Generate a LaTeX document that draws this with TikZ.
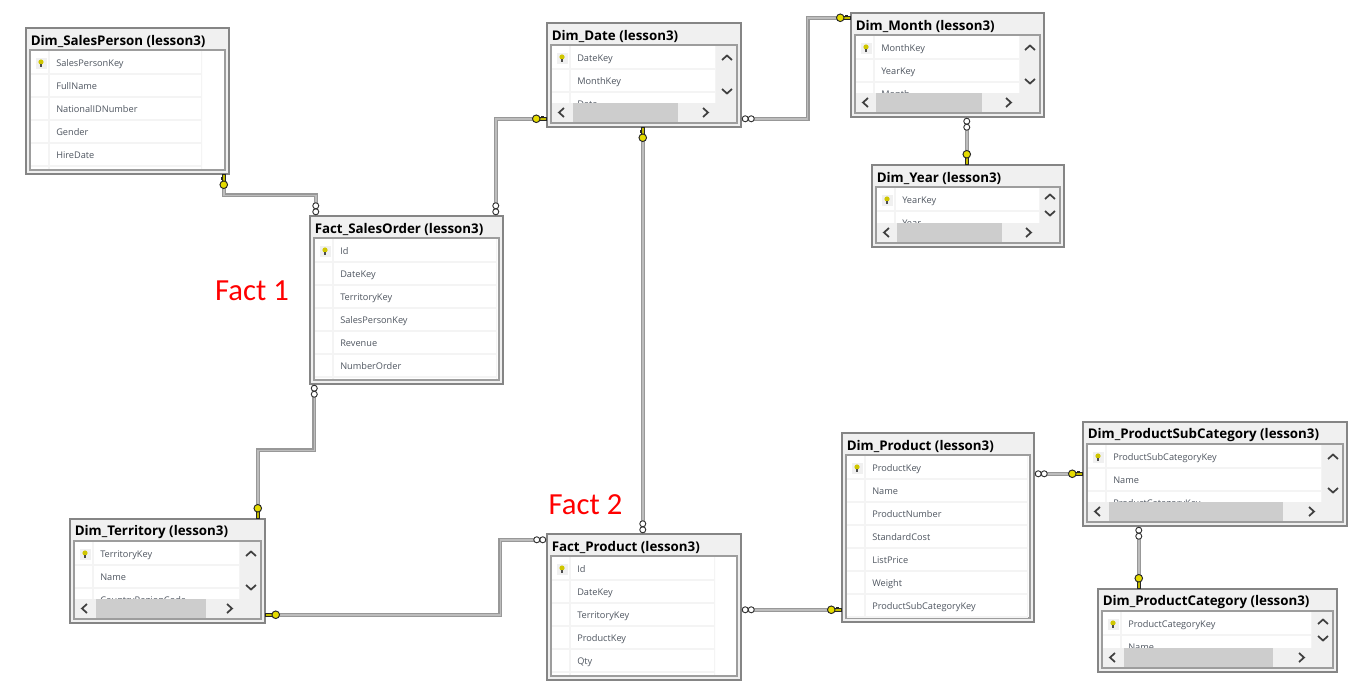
\documentclass[tikz,border=0pt]{standalone}
\usepackage{fontspec}
\setmainfont{Open Sans}
\newfontfamily\labelfont{Carlito}
\usetikzlibrary{calc,fit}

\definecolor{framegray}{HTML}{858585}
\definecolor{barfill}{HTML}{F0F0F0}
\definecolor{rulefill}{HTML}{F4F4F4}
\definecolor{thumbfill}{HTML}{CDCDCD}
\definecolor{rowtext}{HTML}{4F5660}
\definecolor{linkgray}{HTML}{989898}
\definecolor{linkcore}{HTML}{BDBDBD}
\definecolor{keyyellow}{HTML}{E6DC00}

\tikzset{
  tablebox/.style={draw=framegray,line width=1.1pt,fill=barfill,inner sep=0pt},
  tabletitle/.style={anchor=west,inner sep=0pt,font=\fontsize{10}{12}\selectfont\bfseries,text=black},
  rowname/.style={anchor=west,inner sep=0pt,text height=6pt,text depth=1.5pt,font=\fontsize{6.9}{8}\selectfont,text=rowtext},
  factlabel/.style={inner sep=0pt,font=\labelfont\fontsize{23}{26}\selectfont,text=red},
  erdlink/.style={draw=linkgray,line width=.8pt,double=linkcore,double distance=1.1pt},
  chevron/.style={draw=black!75,line width=1.3pt},
  pics/keytip/.style={code={
    \draw[black!85,line width=.6pt,fill=keyyellow!85!black] (0,-1.5) -- (8,-1.5) -- (8,1.5) -- (0,1.5) -- cycle;
    \fill[black!85] (2,1) rectangle (5,2.6);
    \draw[black!85,line width=.7pt,fill=keyyellow] (10,0) circle [radius=3.8];
  }},
  pics/inftip/.style={code={
    \draw[black!80,line width=.7pt,fill=white] (3.5,0) circle [radius=3];
    \draw[black!80,line width=.7pt,fill=white] (9.5,0) circle [radius=3];
  }},
  pics/bulb/.style={code={
    \fill[barfill] (-5.5,-5.5) rectangle (5.5,5.5);
    \fill[keyyellow!90!black] (0,-1) circle [radius=2.6];
    \fill[black!70] (-1.2,1) rectangle (1.2,4);
  }},
}

% name, x1, y1, x2, y2, right end of rows, bottom of panel, title, rows
\newcommand{\erdtable}[9]{
  \node[tablebox,fit={(#2,#3) (#4,#5)}] (#1) {};
  \node[tabletitle] (#1-title) at ({#2+4.5},{#3+13.5}) {#8};
  \draw[framegray!80,line width=.8pt,fill=barfill] ({#2+4},{#3+22}) rectangle ({#4-4},{#5-4});
  \fill[white] ({#2+5},{#3+23}) rectangle ({#4-5},#7);
  \begin{scope}
    \clip ({#2+5},{#3+23}) rectangle (#6,#7);
    \foreach \rowtext [count=\rownum] in {#9} {
      \node[rowname] (#1-r\rownum) at ({#2+30},{#3+35+23*(\rownum-1)}) {\rowtext};
      \draw[rulefill,line width=.8pt] ({#2+5},{#3+46+23*(\rownum-1)}) -- (#6,{#3+46+23*(\rownum-1)});
    }
    \draw[rulefill,line width=.8pt] ({#2+23},{#3+23}) -- ({#2+23},#7);
    \draw[rulefill,line width=.8pt] (#6,{#3+23}) -- (#6,#7);
  \end{scope}
  \pic at ({#2+15},{#3+35}) {bulb};
}

% x1, y1, x2, right end of rows, panel bottom, thumb left, thumb right, upper and lower vertical arrow
\newcommand{\erdscroll}[9]{
  \fill[barfill] (#4,{#2+23}) rectangle ({#3-5},{#5+19});
  \fill[barfill] ({#1+5},#5) rectangle ({#3-5},{#5+19});
  \fill[thumbfill] (#6,#5) rectangle (#7,{#5+19});
  \draw[chevron] ({#1+17},{#5+5}) -- ({#1+12},{#5+9.5}) -- ({#1+17},{#5+14});
  \draw[chevron] ({#3-38},{#5+5}) -- ({#3-33},{#5+9.5}) -- ({#3-38},{#5+14});
  \draw[chevron] ({#3-19},{#8+2}) -- ({#3-14},{#8-2.5}) -- ({#3-9},{#8+2});
  \draw[chevron] ({#3-19},{#9-2}) -- ({#3-14},{#9+2.5}) -- ({#3-9},{#9-2});
}

\begin{document}
\begin{tikzpicture}[x=.75pt,y=-.75pt]
  \useasboundingbox (0,0) rectangle (1361,700);

  % the tables
  \erdtable{dimsalesperson}{26}{28}{229}{174}{202}{169}{Dim\_SalesPerson (lesson3)}{SalesPersonKey,FullName,NationalIDNumber,Gender,HireDate}
  \erdtable{factsalesorder}{310}{216}{503}{384}{497}{379}{Fact\_SalesOrder (lesson3)}{Id,DateKey,TerritoryKey,SalesPersonKey,Revenue,NumberOrder}
  \erdtable{factproduct}{547}{534}{741}{680}{715}{675}{Fact\_Product (lesson3)}{Id,DateKey,TerritoryKey,ProductKey,Qty}
  \erdtable{dimproduct}{842}{433}{1034}{622}{1028}{617}{Dim\_Product (lesson3)}{ProductKey,Name,ProductNumber,StandardCost,ListPrice,Weight,ProductSubCategoryKey}

  \erdtable{dimdate}{547}{23}{741}{127}{716}{103}{Dim\_Date (lesson3)}{DateKey,MonthKey,Date}
  \erdscroll{547}{23}{741}{716}{103}{573}{678}{58}{91}
  \erdtable{dimmonth}{851}{13}{1044}{117}{1020}{93}{Dim\_Month (lesson3)}{MonthKey,YearKey,Month}
  \erdscroll{851}{13}{1044}{1020}{93}{876}{982}{48}{81}
  \erdtable{dimyear}{872}{165}{1064}{247}{1040}{223}{Dim\_Year (lesson3)}{YearKey,Year}
  \erdscroll{872}{165}{1064}{1040}{223}{897}{1002}{197}{213}
  \erdtable{dimterritory}{70}{519}{265}{623}{240}{599}{Dim\_Territory (lesson3)}{TerritoryKey,Name,CountryRegionCode}
  \erdscroll{70}{519}{265}{240}{599}{96}{206}{554}{587}
  \erdtable{dimsubcategory}{1083}{422}{1347}{526}{1322}{502}{Dim\_ProductSubCategory (lesson3)}{ProductSubCategoryKey,Name,ProductCategoryKey}
  \erdscroll{1083}{422}{1347}{1322}{502}{1109}{1283}{457}{490}
  \erdtable{dimcategory}{1098}{589}{1337}{672}{1312}{648}{Dim\_ProductCategory (lesson3)}{ProductCategoryKey,Name}
  \erdscroll{1098}{589}{1337}{1312}{648}{1124}{1273}{622}{638}

  \node[factlabel] (fact1) at (252,291) {Fact 1};
  \node[factlabel] (fact2) at (585.5,505) {Fact 2};

  % free ends of the relations, on the table borders
  \coordinate (sp-out) at ($(dimsalesperson.south west)+(198.5,0)$);
  \coordinate (so-top1) at ($(factsalesorder.north west)+(6.5,0)$);
  \coordinate (so-top2) at ($(factsalesorder.north west)+(186.5,0)$);
  \coordinate (so-bot) at ($(factsalesorder.south west)+(5,0)$);
  \coordinate (date-left) at ($(dimdate.north west)+(0,96.5)$);
  \coordinate (date-right) at ($(dimdate.north east)+(0,96.5)$);
  \coordinate (date-bot) at ($(dimdate.south west)+(96.5,0)$);
  \coordinate (month-left) at ($(dimmonth.north west)+(0,5.5)$);
  \coordinate (month-bot) at ($(dimmonth.south west)+(116.5,0)$);
  \coordinate (year-top) at ($(dimyear.north west)+(95.5,0)$);
  \coordinate (terr-top) at ($(dimterritory.north west)+(188.5,0)$);
  \coordinate (terr-right) at ($(dimterritory.north east)+(0,96.5)$);
  \coordinate (fp-top) at ($(factproduct.north west)+(96.5,0)$);
  \coordinate (fp-left) at ($(factproduct.north west)+(0,6.5)$);
  \coordinate (fp-right) at ($(factproduct.north east)+(0,76.5)$);
  \coordinate (prod-left) at ($(dimproduct.north west)+(0,177.5)$);
  \coordinate (prod-right) at ($(dimproduct.north east)+(0,41.5)$);
  \coordinate (sub-left) at ($(dimsubcategory.north west)+(0,52.5)$);
  \coordinate (sub-bot) at ($(dimsubcategory.south west)+(56.5,0)$);
  \coordinate (cat-top) at ($(dimcategory.north west)+(41.5,0)$);

  % the relations
  \draw[erdlink] (sp-out) |- ($(so-top1)+(0,-20)$) -- (so-top1);
  \draw[erdlink] (so-top2) |- (date-left);
  \draw[erdlink] (date-right) -- ($(date-right)+(66,0)$) |- (month-left);
  \draw[erdlink] (month-bot) -- (year-top);
  \draw[erdlink] (date-bot) -- (fp-top);
  \draw[erdlink] (so-bot) |- ($(terr-top)+(0,-68)$) -- (terr-top);
  \draw[erdlink] (terr-right) -| ($(fp-left)+(-46,0)$) -- (fp-left);
  \draw[erdlink] (fp-right) -- (prod-left);
  \draw[erdlink] (prod-right) -- (sub-left);
  \draw[erdlink] (sub-bot) -- (cat-top);

  % key ends
  \pic[rotate=-90] at (sp-out) {keytip};
  \pic[rotate=180] at (date-left) {keytip};
  \pic[rotate=180] at (month-left) {keytip};
  \pic[rotate=90] at (year-top) {keytip};
  \pic[rotate=-90] at (date-bot) {keytip};
  \pic[rotate=90] at (terr-top) {keytip};
  \pic at (terr-right) {keytip};
  \pic[rotate=180] at (prod-left) {keytip};
  \pic[rotate=180] at (sub-left) {keytip};
  \pic[rotate=90] at (cat-top) {keytip};

  % many ends
  \pic[rotate=90] at (so-top1) {inftip};
  \pic[rotate=90] at (so-top2) {inftip};
  \pic at (date-right) {inftip};
  \pic[rotate=-90] at (month-bot) {inftip};
  \pic[rotate=90] at (fp-top) {inftip};
  \pic[rotate=-90] at (so-bot) {inftip};
  \pic[rotate=180] at (fp-left) {inftip};
  \pic at (fp-right) {inftip};
  \pic at (prod-right) {inftip};
  \pic[rotate=-90] at (sub-bot) {inftip};
\end{tikzpicture}
\end{document}
